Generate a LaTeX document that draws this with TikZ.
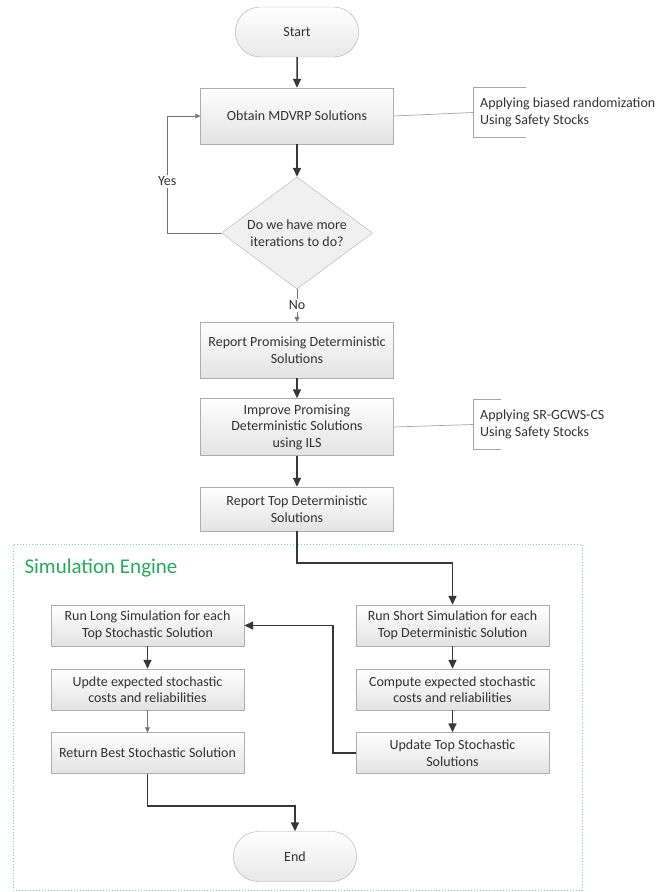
\documentclass[tikz,border=0pt]{standalone}
\usepackage{fontspec}
\setmainfont{Carlito}
\usepackage{tikz}
\usetikzlibrary{arrows.meta,shapes.geometric,shapes.misc,positioning,calc}

\definecolor{txtgray}{RGB}{50,50,50}
\definecolor{arrgray}{RGB}{55,55,55}
\definecolor{simgreen}{RGB}{40,168,96}
\definecolor{simframe}{RGB}{150,205,185}

\begin{document}
\begin{tikzpicture}[
    x=1pt, y=-1pt,
    proc/.style={draw=black!32, top color=white, bottom color=black!11, minimum width=193, minimum height=56, align=center, text=txtgray, font=\fontsize{14}{16.5}\selectfont},
    sproc/.style={proc, minimum height=41},
    term/.style={rounded rectangle, draw=black!32, top color=white, bottom color=black!9, minimum width=130, minimum height=50, text=txtgray, font=\fontsize{14}{16.5}\selectfont},
    decis/.style={diamond, draw=black!30, fill=black!6, aspect=1.35, inner sep=0pt, minimum width=151, minimum height=112, align=center, text=txtgray, font=\fontsize{14}{17}\selectfont},
    note/.style={anchor=west, inner xsep=7, minimum height=49, align=left, text=txtgray, font=\fontsize{14}{16.5}\selectfont},
    arr/.style={-{Triangle[length=9pt,width=8pt]}, line width=1.5pt, draw=arrgray},
    tarr/.style={-{Triangle[length=5pt,width=5pt]}, line width=0.7pt, draw=black!55},
    nline/.style={draw=black!35, line width=0.7pt},
    lbl/.style={fill=white, inner sep=1.5pt, text=txtgray, font=\fontsize{14}{16.5}\selectfont}
]
\useasboundingbox (0,0) rectangle (660,892);

% simulation engine frame
\node[draw=simframe, dotted, line width=0.9pt, minimum width=569, minimum height=346, inner sep=0pt] (sim) at (297.5,717) {};
\node[anchor=west, text=simgreen, font=\fontsize{21}{24}\selectfont] (simlbl) at (21,568) {Simulation Engine};

% main column
\node[term] (start) at (297,32) {Start};
\node[proc] (obtain) at (297,116) {Obtain MDVRP Solutions};
\node[decis] (iter) at (297,233) {Do we have more\\iterations to do?};
\node[proc] (rprom) at (297,350) {Report Promising Deterministic\\Solutions};
\node[proc, minimum height=57] (improve) at (297,427) {Improve Promising\\Deterministic Solutions\\using ILS};
\node[proc, minimum height=44] (rtop) at (297,509) {Report Top Deterministic\\Solutions};

% side notes
\node[note] (note1) at (473,112.5) {Applying biased randomization\\Using Safety Stocks};
\node[note] (note2) at (473,424.5) {Applying SR-GCWS-CS\\Using Safety Stocks};

% simulation engine
\node[sproc] (rshort) at (452.5,625.5) {Run Short Simulation for each\\Top Deterministic Solution};
\node[sproc] (compute) at (452.5,689.5) {Compute expected stochastic\\costs and reliabilities};
\node[sproc] (updtop) at (452.5,753) {Update Top Stochastic\\Solutions};
\node[sproc] (rlong) at (147.5,625.5) {Run Long Simulation for each\\Top Stochastic Solution};
\node[sproc] (updte) at (147.5,689.5) {Updte expected stochastic\\costs and reliabilities};
\node[sproc] (rbest) at (147.5,753) {Return Best Stochastic Solution};
\node[term] (end) at (295,856.5) {End};

\coordinate (bend1) at (297,563);
\coordinate (bend2) at (147.5,806);

\draw[arr] (start) -- (obtain);
\draw[arr] (obtain) -- (iter);
\draw[tarr] (iter.west) -- ++(-54,0) |- (obtain.west) node[lbl, pos=0.22] {Yes};
\draw[tarr] (iter.south) -- node[lbl] {No} (rprom.north);
\draw[arr] (rprom) -- (improve);
\draw[arr] (improve) -- (rtop);
\draw[arr] (rtop.south) -- (bend1) -| (rshort.north);
\draw[arr] (rshort) -- (compute);
\draw[arr] (compute) -- (updtop);
\draw[arr] (updtop.west) -- ++(-23,0) |- (rlong.east);
\draw[arr] (rlong) -- (updte);
\draw[tarr] (updte) -- (rbest);
\draw[arr] (rbest.south) -- (bend2) -| (end.north);

% note brackets
\draw[nline] (obtain.east) -- (note1.west);
\draw[nline] ([xshift=53]note1.north west) -- (note1.north west) -- (note1.south west) -- ([xshift=53]note1.south west);
\draw[nline] (improve.east) -- (note2.west);
\draw[nline] ([xshift=28]note2.north west) -- (note2.north west) -- (note2.south west) -- ([xshift=28]note2.south west);
\end{tikzpicture}
\end{document}
